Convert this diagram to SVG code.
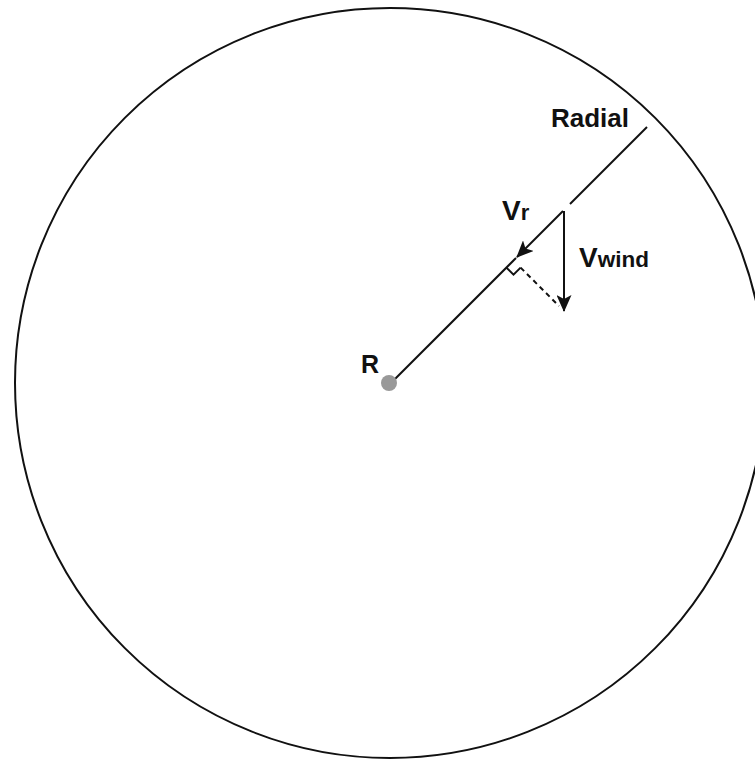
<svg xmlns="http://www.w3.org/2000/svg" width="755" height="760" viewBox="0 0 755 760">
<style>
.ln{stroke:#111;stroke-width:2;fill:none}
.tx{font-family:"Liberation Sans",Arial,sans-serif;font-weight:bold;fill:#111}
</style>
<defs>
<marker id="ah" markerWidth="17" markerHeight="15" refX="16" refY="7.5" orient="auto" markerUnits="userSpaceOnUse">
<path d="M0,0 L17,7.5 L0,15 L4,7.5 Z" fill="#111"/>
</marker>
</defs>
<rect width="755" height="760" fill="#fff"/>
<g id="boundary"><circle cx="390" cy="383" r="375" class="ln"/></g>
<g id="connectors">
<line class="ln" x1="390" y1="384" x2="516" y2="258"/>
<line class="ln" x1="570" y1="204" x2="647" y2="127"/>
<line class="ln" x1="563" y1="211" x2="517" y2="257" marker-end="url(#ah)"/>
<line class="ln" x1="564" y1="211" x2="564" y2="311" marker-end="url(#ah)"/>
<polyline class="ln" stroke-width="1.6" points="506.4,267.6 513.5,274.7 520.6,267.6"/>
<line class="ln" stroke-dasharray="5,4" x1="520.6" y1="267.6" x2="559" y2="306"/>
</g>
<g id="radial"><text class="tx" x="551" y="127" font-size="26">Radial</text></g>
<g id="vr"><text class="tx" x="502" y="220" font-size="28">V<tspan font-size="22">r</tspan></text></g>
<g id="vwind"><text class="tx" x="579" y="267" font-size="28">V<tspan font-size="22.5">wind</tspan></text></g>
<g id="center"><text class="tx" x="361" y="373" font-size="25">R</text><circle cx="389" cy="383" r="8" fill="#999"/></g>
</svg>
